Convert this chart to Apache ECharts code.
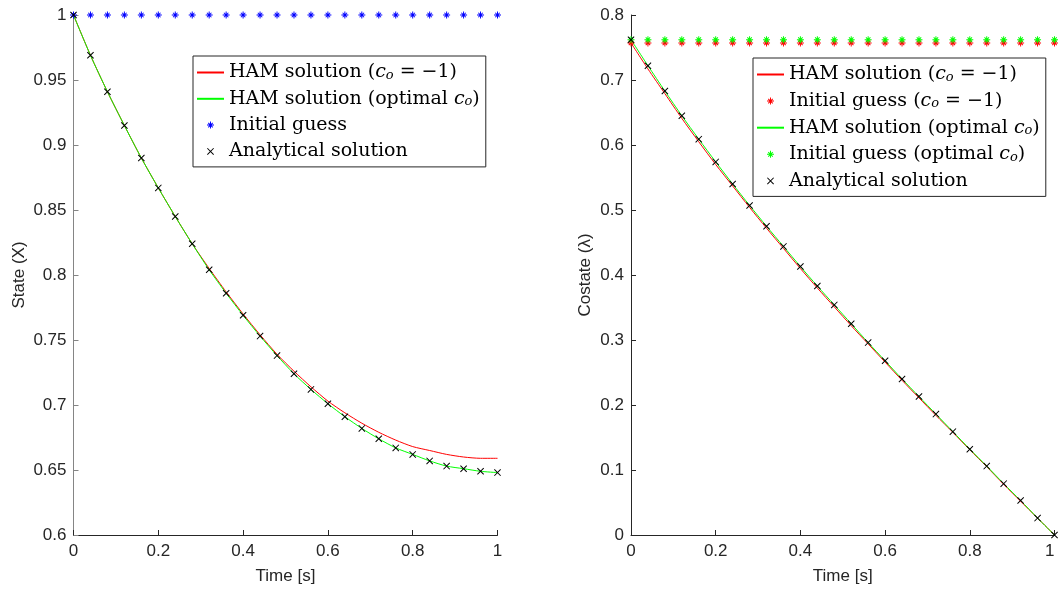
<!DOCTYPE html>
<html>
<head>
<meta charset="utf-8">
<script src="https://cdn.jsdelivr.net/npm/echarts@6/dist/echarts.min.js"></script>
<style>
  html, body { margin: 0; padding: 0; background: #fff; }
  #chart { width: 1058px; height: 590px; }
</style>
</head>
<body>
<div id="chart"></div>
<script>
// ---------- data ----------
const T = [0, 0.04, 0.08, 0.12, 0.16, 0.20, 0.24, 0.28, 0.32, 0.36, 0.40, 0.44, 0.48,
           0.52, 0.56, 0.60, 0.64, 0.68, 0.72, 0.76, 0.80, 0.84, 0.88, 0.92, 0.96, 1.00];

// Left panel: state X
const stateAnalytical = [1.000, 0.969, 0.941, 0.915, 0.890, 0.867, 0.845, 0.824, 0.804, 0.786,
                         0.769, 0.753, 0.738, 0.724, 0.712, 0.701, 0.691, 0.682, 0.674, 0.667,
                         0.662, 0.657, 0.653, 0.651, 0.649, 0.648];
const stateHamOptimal = [1.000, 0.969, 0.941, 0.915, 0.890, 0.867, 0.845, 0.824, 0.804, 0.786,
                         0.769, 0.753, 0.738, 0.724, 0.712, 0.701, 0.691, 0.682, 0.674, 0.667,
                         0.662, 0.657, 0.653, 0.651, 0.649, 0.648];
const stateHamMinus1 = [1.000, 0.969, 0.941, 0.915, 0.890, 0.867, 0.845, 0.824, 0.805, 0.787,
                        0.770, 0.754, 0.739, 0.726, 0.714, 0.703, 0.694, 0.686, 0.679, 0.673,
                        0.668, 0.665, 0.662, 0.660, 0.659, 0.659];
const stateInitialGuess = [1, 1, 1, 1, 1, 1, 1, 1, 1, 1, 1, 1, 1,
                           1, 1, 1, 1, 1, 1, 1, 1, 1, 1, 1, 1, 1];

// Right panel: costate lambda
const costateAnalytical = [0.762, 0.722, 0.683, 0.645, 0.609, 0.574, 0.540, 0.507, 0.475, 0.444,
                           0.413, 0.383, 0.354, 0.325, 0.296, 0.268, 0.240, 0.213, 0.186, 0.159,
                           0.132, 0.106, 0.079, 0.053, 0.026, 0.000];
const costateHamOptimal = [0.762, 0.722, 0.683, 0.645, 0.609, 0.574, 0.540, 0.507, 0.475, 0.444,
                           0.413, 0.383, 0.354, 0.325, 0.296, 0.268, 0.240, 0.213, 0.186, 0.159,
                           0.132, 0.106, 0.079, 0.053, 0.026, 0.000];
const costateHamMinus1 = [0.757, 0.717, 0.679, 0.641, 0.605, 0.570, 0.537, 0.504, 0.472, 0.441,
                          0.410, 0.380, 0.351, 0.322, 0.294, 0.266, 0.238, 0.211, 0.184, 0.158,
                          0.131, 0.105, 0.078, 0.052, 0.026, 0.000];
const costateGuessMinus1 = [0.757, 0.757, 0.757, 0.757, 0.757, 0.757, 0.757, 0.757, 0.757, 0.757,
                            0.757, 0.757, 0.757, 0.757, 0.757, 0.757, 0.757, 0.757, 0.757, 0.757,
                            0.757, 0.757, 0.757, 0.757, 0.757, 0.757];
const costateGuessOptimal = [0.762, 0.762, 0.762, 0.762, 0.762, 0.762, 0.762, 0.762, 0.762, 0.762,
                             0.762, 0.762, 0.762, 0.762, 0.762, 0.762, 0.762, 0.762, 0.762, 0.762,
                             0.762, 0.762, 0.762, 0.762, 0.762, 0.762];

// tick labels
const xTicks = [0, 0.2, 0.4, 0.6, 0.8, 1];
const stateTicks = [0.6, 0.65, 0.7, 0.75, 0.8, 0.85, 0.9, 0.95, 1];
const costateTicks = [0, 0.1, 0.2, 0.3, 0.4, 0.5, 0.6, 0.7, 0.8];

// labels
const N_HAM1 = 'HAM solution (c_o = -1)';
const N_HAMOPT = 'HAM solution (optimal c_o)';
const N_IG = 'Initial guess';
const N_IG1 = 'Initial guess (c_o = -1)';
const N_IGOPT = 'Initial guess (optimal c_o)';
const N_AN = 'Analytical solution';
const legendLabels = {};
legendLabels[N_HAM1] = 'HAM solution ({i|c}{s|o} = \u22121)';
legendLabels[N_HAMOPT] = 'HAM solution (optimal {i|c}{s|o})';
legendLabels[N_IG] = 'Initial guess';
legendLabels[N_IG1] = 'Initial guess ({i|c}{s|o} = \u22121)';
legendLabels[N_IGOPT] = 'Initial guess (optimal {i|c}{s|o})';
legendLabels[N_AN] = 'Analytical solution';
const LINE_NAMES = [N_HAM1, N_HAMOPT];

// ---------- helpers ----------
function pairs(xs, ys) { return xs.map((x, i) => [x, ys[i]]); }

const CROSS = 'path://M0,1L1,0L10,9L9,10ZM9,0L10,1L1,10L0,9Z';
const STAR = 'path://M4.3,0L5.7,0L5.7,10L4.3,10ZM10,4.3L10,5.7L0,5.7L0,4.3Z' +
             'M1.3,2.3L2.3,1.3L8.7,7.7L7.7,8.7ZM7.7,1.3L8.7,2.3L2.3,8.7L1.3,7.7Z';

const TICK_FONT = 'Liberation Sans';
const AX_DARK = '#262626';

function xAxisCfg(gridIndex, maxAlign) {
  return {
    type: 'value', gridIndex,
    min: xTicks[0], max: xTicks[xTicks.length - 1], interval: xTicks[1] - xTicks[0],
    name: 'Time [s]', nameLocation: 'middle', nameGap: 33,
    nameTextStyle: { fontFamily: TICK_FONT, fontSize: 17, color: AX_DARK },
    axisLine: { show: true, onZero: false, lineStyle: { color: AX_DARK, width: 1 } },
    axisTick: { show: true, inside: true, length: 5, lineStyle: { color: AX_DARK } },
    axisLabel: { fontFamily: TICK_FONT, fontSize: 17, color: AX_DARK, margin: 8,
                 showMinLabel: true, showMaxLabel: true, hideOverlap: false,
                 alignMinLabel: 'center', alignMaxLabel: maxAlign },
    splitLine: { show: false }
  };
}
function yAxisCfg(gridIndex, ticks, name, gap, lineColor) {
  return {
    type: 'value', gridIndex,
    min: ticks[0], max: ticks[ticks.length - 1],
    interval: Math.round((ticks[1] - ticks[0]) * 1000) / 1000,
    name, nameLocation: 'middle', nameGap: gap,
    nameTextStyle: { fontFamily: TICK_FONT, fontSize: 17, color: AX_DARK },
    axisLine: { show: true, onZero: false, lineStyle: { color: lineColor, width: 1 } },
    axisTick: { show: true, inside: true, length: 5, lineStyle: { color: lineColor } },
    axisLabel: { fontFamily: TICK_FONT, fontSize: 17, color: AX_DARK, margin: 7 },
    splitLine: { show: false }
  };
}
function lineSeries(name, xi, ys, color) {
  return {
    type: 'line', name, xAxisIndex: xi, yAxisIndex: xi,
    data: pairs(T, ys), symbol: 'none', smooth: 0.25,
    lineStyle: { color, width: 1 }, itemStyle: { color }, z: 2
  };
}
function markerSeries(name, xi, ys, color, symbol, size) {
  return {
    type: 'scatter', name, xAxisIndex: xi, yAxisIndex: xi,
    data: pairs(T, ys), symbol, symbolSize: size, symbolKeepAspect: true,
    itemStyle: { color, opacity: 1 }, clip: false, z: 3
  };
}
function legendCfg(left, top, names, gap) {
  return {
    orient: 'vertical', left, top,
    data: names.map(n => LINE_NAMES.indexOf(n) >= 0
      ? { name: n, itemStyle: { opacity: 0 } }
      : { name: n }),
    selectedMode: false,
    itemWidth: 27, itemHeight: 7, itemGap: gap,
    padding: [7, 6, 6, 3],
    backgroundColor: '#ffffff', borderColor: AX_DARK, borderWidth: 1, borderRadius: 0,
    formatter: (n) => legendLabels[n] || n,
    textStyle: {
      fontFamily: 'DejaVu Serif', fontSize: 19, color: '#000',
      rich: {
        i: { fontFamily: 'DejaVu Serif', fontStyle: 'italic', fontSize: 19, color: '#000' },
        s: { fontFamily: 'DejaVu Serif', fontStyle: 'italic', fontSize: 13, color: '#000', verticalAlign: 'bottom' }
      }
    }
  };
}

const option = {
  animation: false,
  backgroundColor: '#ffffff',
  grid: [
    { left: 73.5, right: 560.5, top: 15, bottom: 55, outerBoundsMode: 'none' },
    { left: 631, right: 3.5, top: 15, bottom: 55, outerBoundsMode: 'none' }
  ],
  xAxis: [xAxisCfg(0, 'center'), xAxisCfg(1, 'right')],
  yAxis: [
    yAxisCfg(0, stateTicks, 'State (X)', 46, '#858585'),
    yAxisCfg(1, costateTicks, 'Costate (\u03bb)', 37, AX_DARK)
  ],
  legend: [
    legendCfg(193, 56, [N_HAM1, N_HAMOPT, N_IG, N_AN], 7.3),
    legendCfg(753, 58, [N_HAM1, N_IG1, N_HAMOPT, N_IGOPT, N_AN], 7.6)
  ],
  series: [
    lineSeries(N_HAM1, 0, stateHamMinus1, '#ff0000'),
    lineSeries(N_HAMOPT, 0, stateHamOptimal, '#00ff00'),
    markerSeries(N_IG, 0, stateInitialGuess, '#0000ff', STAR, 7),
    markerSeries(N_AN, 0, stateAnalytical, '#000000', CROSS, 7),

    lineSeries(N_HAM1, 1, costateHamMinus1, '#ff0000'),
    markerSeries(N_IG1, 1, costateGuessMinus1, '#ff0000', STAR, 7),
    lineSeries(N_HAMOPT, 1, costateHamOptimal, '#00ff00'),
    markerSeries(N_IGOPT, 1, costateGuessOptimal, '#00ff00', STAR, 7),
    markerSeries(N_AN, 1, costateAnalytical, '#000000', CROSS, 7)
  ]
};

const chart = echarts.init(document.getElementById('chart'), null, { renderer: 'canvas' });
chart.setOption(option);
</script>
</body>
</html>
